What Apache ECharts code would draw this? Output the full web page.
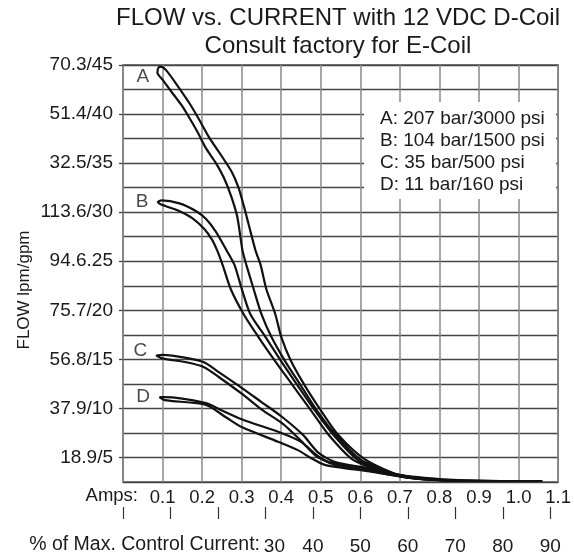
<!DOCTYPE html>
<html><head><meta charset="utf-8">
<script src="https://cdn.jsdelivr.net/npm/echarts@6/dist/echarts.min.js"></script>
<style>html,body{margin:0;padding:0;background:#fff}#c{width:574px;height:556px}</style>
</head><body><div id="c"></div>
<script>
// ---- text ----
const titleLines = ['FLOW vs. CURRENT with 12 VDC D-Coil', 'Consult factory for E-Coil'];
const yAxisName = 'FLOW lpm/gpm';
const ampsLabel = 'Amps:';
const pctLabel = '% of Max. Control Current:';
const curveNames = ['A', 'B', 'C', 'D'];
const legendTexts = ['A: 207 bar/3000 psi', 'B: 104 bar/1500 psi', 'C: 35 bar/500 psi', 'D: 11 bar/160 psi'];

// ---- axes ----
const yTickValues = [5, 10, 15, 20, 25, 30, 35, 40, 45];
const yTickLabels = ['18.9/5', '37.9/10', '56.8/15', '75.7/20', '94.6.25', '113.6/30', '32.5/35', '51.4/40', '70.3/45'];
const pctTickValues = [0, 10, 20, 30, 40, 50, 60, 70, 80, 90];
const pctLabelValues = [30, 40, 50, 60, 70, 80, 90];
const ampsPerPercent = 0.012;   // 100 % = 1.2 A
const ampsMax = 1.1;

// ---- curves: [amps, gpm]; "low" = lower-current branch, "high" = higher-current branch ----
const aLow = [[0.087,44.2],[0.10,43.5],[0.122,42.3],[0.148,40.9],[0.168,39.6],[0.188,38.2],[0.21,36.5],[0.235,35.0],[0.255,33.5],[0.272,31.8],[0.288,29.7],[0.295,28.0],[0.302,26.1],[0.312,24.6],[0.33,22.2],[0.35,19.6],[0.375,17.3],[0.41,14.8],[0.45,12.3],[0.49,9.8],[0.535,7.4],[0.60,4.8],[0.69,3.3],[0.80,2.8],[0.94,2.6],[1.06,2.6]];
const aHigh = [[0.09,44.75],[0.0975,44.8],[0.1125,44.3],[0.1375,42.9],[0.168,41.1],[0.193,39.4],[0.218,37.6],[0.248,35.8],[0.275,34.1],[0.292,32.5],[0.305,30.7],[0.318,28.7],[0.335,26.1],[0.348,24.6],[0.362,22.2],[0.385,19.6],[0.40,17.3],[0.425,14.8],[0.46,12.3],[0.50,9.8],[0.542,7.4],[0.612,4.8],[0.705,3.1],[0.80,2.7],[0.94,2.6],[1.06,2.6]];
const bLow = [[0.095,30.8],[0.1375,30.2],[0.175,29.4],[0.205,28.3],[0.225,27.2],[0.238,26.1],[0.252,24.6],[0.272,22.2],[0.305,19.6],[0.342,17.3],[0.385,14.8],[0.43,12.3],[0.475,9.8],[0.518,7.4],[0.58,4.8],[0.638,3.8],[0.712,3.0],[0.80,2.7],[0.94,2.6],[1.06,2.6]];
const bHigh = [[0.088,31.05],[0.0975,31.2],[0.1425,30.9],[0.185,30.1],[0.21,29.3],[0.235,28.0],[0.262,26.1],[0.282,24.6],[0.30,22.2],[0.322,19.6],[0.36,17.3],[0.40,14.8],[0.442,12.3],[0.485,9.8],[0.53,7.4],[0.592,4.8],[0.642,3.9],[0.712,3.1],[0.80,2.7],[0.94,2.6],[1.06,2.6]];
const cLow = [[0.10,15.1],[0.16,14.7],[0.205,14.2],[0.242,13.2],[0.30,11.5],[0.35,9.9],[0.405,8.4],[0.45,6.7],[0.492,5.05],[0.555,4.1],[0.618,3.7],[0.712,3.0],[0.80,2.7],[0.99,2.6]];
const cHigh = [[0.085,15.4],[0.10,15.45],[0.16,15.15],[0.205,14.7],[0.242,13.7],[0.30,12.1],[0.35,10.65],[0.40,9.2],[0.455,7.3],[0.492,5.55],[0.535,4.55],[0.618,3.9],[0.712,3.1],[0.80,2.7],[0.99,2.6]];
const dLow = [[0.105,10.85],[0.21,10.35],[0.26,9.1],[0.30,8.1],[0.392,6.6],[0.442,5.75],[0.475,4.95],[0.51,4.25],[0.618,3.6],[0.712,3.0],[0.80,2.7],[0.99,2.6]];
const dHigh = [[0.0925,11.15],[0.105,11.15],[0.21,10.55],[0.242,9.95],[0.30,8.9],[0.40,7.5],[0.45,6.6],[0.492,5.15],[0.53,4.35],[0.618,3.9],[0.712,3.1],[0.80,2.7],[0.99,2.6]];

const branches = [[aLow, aHigh], [bLow, bHigh], [cLow, cHigh], [dLow, dHigh]];
const labelOffsets = [[0, 9], [0, 0], [0, -5], [0, 0]];

const FONT = '"Liberation Sans", Arial, Helvetica, sans-serif';
const TXT = '#1a1a1a';

const curveSeries = branches.map((br, i) => ({
  name: curveNames[i],
  type: 'line',
  data: br[0].slice().reverse().concat(br[1]),
  showSymbol: false,
  symbol: 'none',
  smooth: 0.25,
  lineStyle: { color: '#111', width: 2.2 },
  z: 5
}));

const tipSeries = {
  type: 'scatter',
  symbolSize: 1,
  itemStyle: { color: 'rgba(0,0,0,0)' },
  data: branches.map((br, i) => ({
    value: br[1][0],
    label: { show: true, position: 'left', distance: 9, offset: labelOffsets[i],
      formatter: curveNames[i], fontFamily: FONT, fontSize: 19, color: TXT }
  })),
  z: 6,
  silent: true
};

const chart = echarts.init(document.getElementById('c'), null, { renderer: 'canvas' });
chart.setOption({
  animation: false,
  backgroundColor: '#fff',
  grid: { left: 123, top: 65, width: 439, height: 417, show: true, borderColor: '#555', borderWidth: 1.5, backgroundColor: 'transparent' },
  xAxis: [
    { type: 'value', min: 0, max: ampsMax, interval: 0.1, position: 'bottom',
      axisLine: { show: false }, axisTick: { show: false },
      splitLine: { show: true, lineStyle: { color: '#8a8a8a', width: 1.5 } },
      axisLabel: { margin: 6, fontFamily: FONT, fontSize: 18.5, color: TXT, showMinLabel: true, showMaxLabel: true,
        formatter: v => (v < 0.05 ? '' : v.toFixed(1)) } },
    { type: 'value', min: 0, max: ampsMax / ampsPerPercent, position: 'bottom', offset: 25,
      axisLine: { show: false },
      axisTick: { show: true, customValues: pctTickValues, length: 12, lineStyle: { color: '#333', width: 1.2 } },
      splitLine: { show: false },
      axisLabel: { customValues: pctLabelValues, margin: 30, fontFamily: FONT, fontSize: 19, color: TXT,
        formatter: v => (Math.round(v) === pctLabelValues[0] ? '{s|' + Math.round(v) + '}' : String(Math.round(v))),
        rich: { s: { padding: [0, 0, 0, 18], fontFamily: FONT, fontSize: 19, color: TXT } } } }
  ],
  yAxis: [
    { type: 'value', min: 2.5, max: 45, interval: 2.5,
      axisLine: { show: false }, axisTick: { show: false }, axisLabel: { show: false },
      splitLine: { show: true, lineStyle: { color: '#444', width: 1.3 } } },
    { type: 'value', min: 2.5, max: 45, position: 'left',
      axisLine: { show: false },
      axisTick: { show: true, customValues: yTickValues, length: 4, lineStyle: { color: '#444', width: 1.3 } },
      splitLine: { show: false },
      axisLabel: { customValues: yTickValues, margin: 10, fontFamily: FONT, fontSize: 19, color: TXT,
        formatter: v => yTickLabels[yTickValues.indexOf(Math.round(v))] } }
  ],
  series: curveSeries.concat([tipSeries]),
  graphic: [
    { type: 'text', x: 338, y: 4, z: 100,
      style: { text: titleLines.join('\n'), font: '24px ' + FONT, fill: TXT, textAlign: 'center', textVerticalAlign: 'top', lineHeight: 28 } },
    { type: 'text', x: 24, y: 290, rotation: Math.PI / 2, z: 100,
      style: { text: yAxisName, font: '17px ' + FONT, fill: TXT, textAlign: 'center', textVerticalAlign: 'middle' } },
    { type: 'text', x: 138, y: 496, z: 100,
      style: { text: ampsLabel, font: '18.5px ' + FONT, fill: TXT, textAlign: 'right', textVerticalAlign: 'middle' } },
    { type: 'text', x: 260, y: 545, z: 100,
      style: { text: pctLabel, font: '19.5px ' + FONT, fill: TXT, textAlign: 'right', textVerticalAlign: 'middle' } },
    { type: 'rect', z: 90, shape: { x: 364, y: 102, width: 192, height: 97 }, style: { fill: '#fff' } },
    { type: 'text', x: 380, y: 108, z: 100,
      style: { text: legendTexts.join('\n'), font: '19px ' + FONT, fill: TXT, textAlign: 'left', textVerticalAlign: 'top', lineHeight: 22 } }
  ]
});
</script></body></html>
